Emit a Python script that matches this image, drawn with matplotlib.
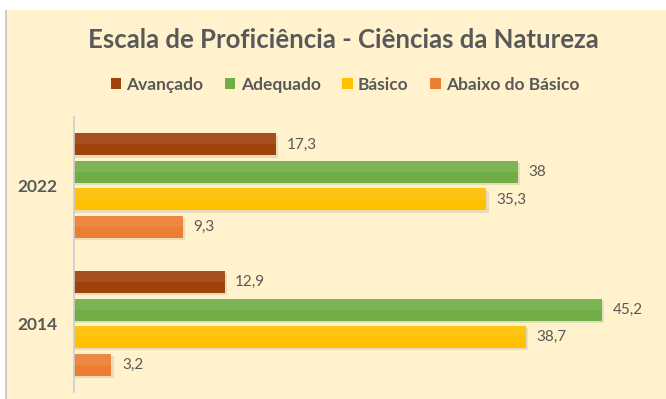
import matplotlib.pyplot as plt
from matplotlib.patches import Rectangle

# proficiency levels, top to bottom inside each year group
levels = ["Avançado", "Adequado", "Básico", "Abaixo do Básico"]
colors = ["#A0420C", "#70AD47", "#FFC000", "#ED7D31"]
years = ["2014", "2022"]
values = {
    "2014": [12.9, 45.2, 38.7, 3.2],
    "2022": [17.3, 38.0, 35.3, 9.3],
}

plt.rcParams["font.family"] = ["Lato", "DejaVu Sans"]
text_gray = "#595959"
bg = "#FFF2CC"

fig = plt.figure(figsize=(6.66, 3.99), dpi=100)
fig.patch.set_facecolor("white")
# chart panel with a thin gray edge on the left
fig.patches.append(Rectangle((7 / 666, 0), 1, 389 / 399, transform=fig.transFigure,
                             facecolor=bg, edgecolor="none", zorder=-2))
fig.patches.append(Rectangle((5 / 666, 0), 2 / 666, 389 / 399, transform=fig.transFigure,
                             facecolor="#D0CCC0", edgecolor="none", zorder=-2))

ax = fig.add_axes([74 / 666, 7 / 399, 584 / 666, 275 / 399])
ax.set_facecolor("none")

offsets = [0.3, 0.1, -0.1, -0.3]
bar_h = 0.16
for i, year in enumerate(years):
    for lvl, off, col, v in zip(levels, offsets, colors, values[year]):
        y = i + off
        # soft drop shadow under each bar
        ax.barh(y - 0.018, v + 0.1, height=bar_h, color="#000000", alpha=0.09,
                zorder=1, left=0.1)
        ax.barh(y, v, height=bar_h, color=col, zorder=2,
                label=lvl if i == 0 else None)
        # lighter upper half for a slight gradient look
        ax.barh(y + bar_h / 4, v, height=bar_h / 2, color="white", alpha=0.08,
                zorder=3)
        ax.text(v + 0.9, y, f"{v:g}".replace(".", ","), va="center", ha="left",
                fontsize=11, color=text_gray)

ax.set_xlim(0, 50)
ax.set_ylim(-0.5, 1.5)
ax.set_yticks(range(len(years)))
ax.set_yticklabels(years, fontsize=12.5, fontweight="bold", color=text_gray)
ax.tick_params(axis="y", length=0, pad=12)
ax.set_xticks([])
for side in ["top", "right", "bottom"]:
    ax.spines[side].set_visible(False)
ax.spines["left"].set_color("#C8CDD8")
ax.spines["left"].set_linewidth(1.2)

fig.text(0.516, 0.9, "Escala de Proficiência - Ciências da Natureza",
         ha="center", va="center", fontsize=18.5, fontweight="bold", color=text_gray)

handles, labels = ax.get_legend_handles_labels()
leg = fig.legend(handles, labels, loc="center", bbox_to_anchor=(0.518, 0.787), ncol=4,
                 frameon=False, handlelength=0.6, handleheight=0.6, handletextpad=0.3,
                 columnspacing=1.25, prop={"size": 12.5, "weight": "bold"})
for t in leg.get_texts():
    t.set_color(text_gray)

fig.savefig("out.png", dpi=100, facecolor=fig.get_facecolor())
